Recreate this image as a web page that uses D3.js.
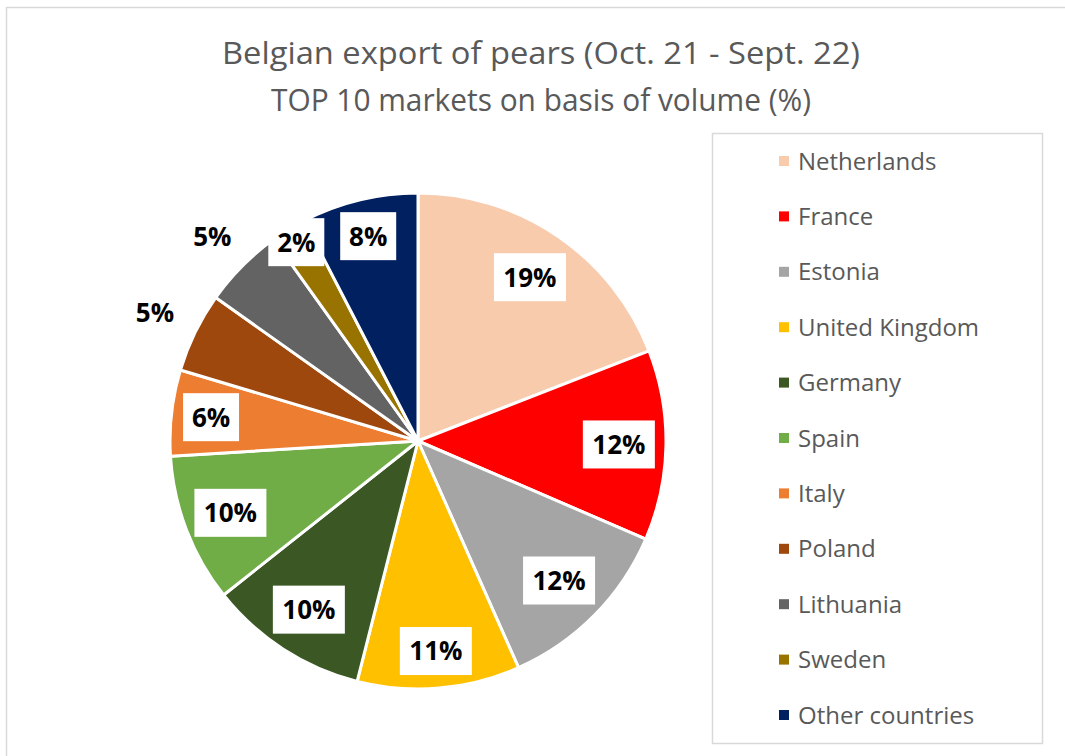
<!DOCTYPE html>
<html>
<head>
<meta charset="utf-8">
<script src="https://cdn.jsdelivr.net/npm/d3@7"></script>
<style>
    body { margin: 0; background: #fff; }
    svg { display: block; font-family: "Open Sans", sans-serif; }
</style>
</head>
<body>
<div id="chart"></div>
<script>
// data
let countries = ["Netherlands", "France", "Estonia", "United Kingdom", "Germany", "Spain",
                 "Italy", "Poland", "Lithuania", "Sweden", "Other countries"];
let shares = [19.1, 12.4, 11.9, 10.6, 10.4, 9.7, 5.6, 5.2, 5.3, 2.3, 7.6];
let shareLabels = ["19%", "12%", "12%", "11%", "10%", "10%", "6%", "5%", "5%", "2%", "8%"];
let sliceColors = ["#F8CBAD", "#FF0000", "#A5A5A5", "#FFC000", "#3A5724", "#70AD47",
                   "#ED7D31", "#9E480E", "#636363", "#997300", "#002060"];
let titleLines = ["Belgian export of pears (Oct. 21 - Sept. 22)",
                  "TOP 10 markets on basis of volume (%)"];

// how far out each label sits, as a part of the radius (Excel's best fit)
let labelRadius = [0.80, 0.81, 0.80, 0.85, 0.81, 0.81, 0.84, 1.18, 1.17, 0.94, 0.85];
let labelBoxed = [true, true, true, true, true, true, true, false, false, true, true];
// title widths in the original (narrow Calibri Light)
let titleWidths = [638, 540];

let width = 1065,
    height = 756,
    cx = 418,
    cy = 441,
    radius = 248;

let svg = d3.select("#chart").append("svg")
    .attr("width", width)
    .attr("height", height);

// chart area border (cropped at right and bottom in the original)
svg.append("rect")
    .attr("x", 6.5)
    .attr("y", 7.5)
    .attr("width", width + 10)
    .attr("height", height + 10)
    .attr("fill", "none")
    .attr("stroke", "#D9D9D9")
    .attr("stroke-width", 1.5);

svg.selectAll(".title")
    .data(titleLines)
    .enter().append("text")
    .attr("class", "title")
    .attr("x", 541)
    .attr("y", function (d, i) { return 64 + i * 47; })
    .attr("text-anchor", "middle")
    .attr("fill", "#595959")
    .attr("textLength", function (d, i) { return titleWidths[i]; })
    .attr("lengthAdjust", "spacingAndGlyphs")
    .style("font-size", "31px")
    .text(function (d) { return d; });

let color = d3.scaleOrdinal()
    .domain(countries)
    .range(sliceColors);

let pie = d3.pie()
    .sort(null)
    .value(function (d, i) { return shares[i]; });

let arcs = pie(countries);

let arc = d3.arc()
    .innerRadius(0)
    .outerRadius(radius);

let g = svg.append("g")
    .attr("transform", "translate(" + cx + "," + cy + ")");

g.selectAll(".slice")
    .data(arcs)
    .enter().append("path")
    .attr("class", "slice")
    .attr("d", arc)
    .attr("fill", function (d) { return color(d.data); })
    .attr("stroke", "#fff")
    .attr("stroke-width", 3)
    .attr("stroke-linejoin", "round");

function labelPos(d, i) {
    let a = (d.startAngle + d.endAngle) / 2;
    let r = radius * labelRadius[i];
    return [Math.sin(a) * r, -Math.cos(a) * r];
}

let labels = g.selectAll(".label")
    .data(arcs)
    .enter().append("g")
    .attr("class", "label")
    .attr("transform", function (d, i) {
        let p = labelPos(d, i);
        return "translate(" + p[0] + "," + p[1] + ")";
    });

labels.append("rect")
    .attr("x", function (d, i) { return -(shareLabels[i].length === 3 ? 72 : 56) / 2; })
    .attr("y", -24)
    .attr("width", function (d, i) { return shareLabels[i].length === 3 ? 72 : 56; })
    .attr("height", 48)
    .attr("fill", function (d, i) { return labelBoxed[i] ? "#fff" : "none"; });

labels.append("text")
    .attr("text-anchor", "middle")
    .attr("dy", "0.36em")
    .attr("fill", "#000")
    .style("font-size", "26px")
    .style("font-weight", "bold")
    .text(function (d, i) { return shareLabels[i]; });

// legend
let legend = svg.append("g");

legend.append("rect")
    .attr("x", 712.5)
    .attr("y", 133.5)
    .attr("width", 330)
    .attr("height", 610)
    .attr("fill", "#fff")
    .attr("stroke", "#D9D9D9")
    .attr("stroke-width", 1.5);

let items = legend.selectAll(".item")
    .data(countries)
    .enter().append("g")
    .attr("class", "item")
    .attr("transform", function (d, i) { return "translate(779," + (161 + i * 55.4) + ")"; });

items.append("rect")
    .attr("x", 0)
    .attr("y", -5)
    .attr("width", 10)
    .attr("height", 10)
    .attr("fill", function (d) { return color(d); });

items.append("text")
    .attr("x", 19)
    .attr("dy", "0.36em")
    .attr("fill", "#595959")
    .style("font-size", "24px")
    .text(function (d) { return d; });
</script>
</body>
</html>
